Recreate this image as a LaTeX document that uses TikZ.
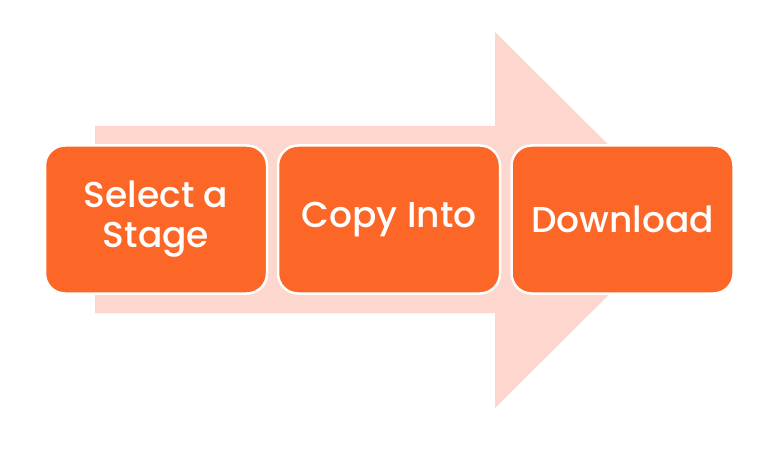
\documentclass[tikz,border=0pt]{standalone}
\usepackage{fontspec}
\setmainfont{Poppins}[UprightFont={* Medium}]
\definecolor{boxor}{RGB}{252,102,38}
\definecolor{arrpink}{RGB}{253,214,205}
\begin{document}
\begin{tikzpicture}[x=1pt,y=-1pt,
  stepbox/.style={draw=white,line width=2.5pt,fill=boxor,rounded corners=20pt,
    minimum width=222pt,minimum height=148pt,inner sep=0pt,
    text=white,align=center,font=\fontsize{36}{40}\selectfont}]
\useasboundingbox (0,0) rectangle (767,454);
\fill[arrpink] (95,126) -- (495,126) -- (495,32) -- (684,220) -- (495,408) -- (495,313) -- (95,313) -- cycle;
\node[stepbox] (s1) at (156,219.5) {Select a\\Stage};
\node[stepbox] (s2) at (389,219.5) {Copy Into};
\node[stepbox] (s3) at (622.5,219.5) {Download};
\end{tikzpicture}
\end{document}
